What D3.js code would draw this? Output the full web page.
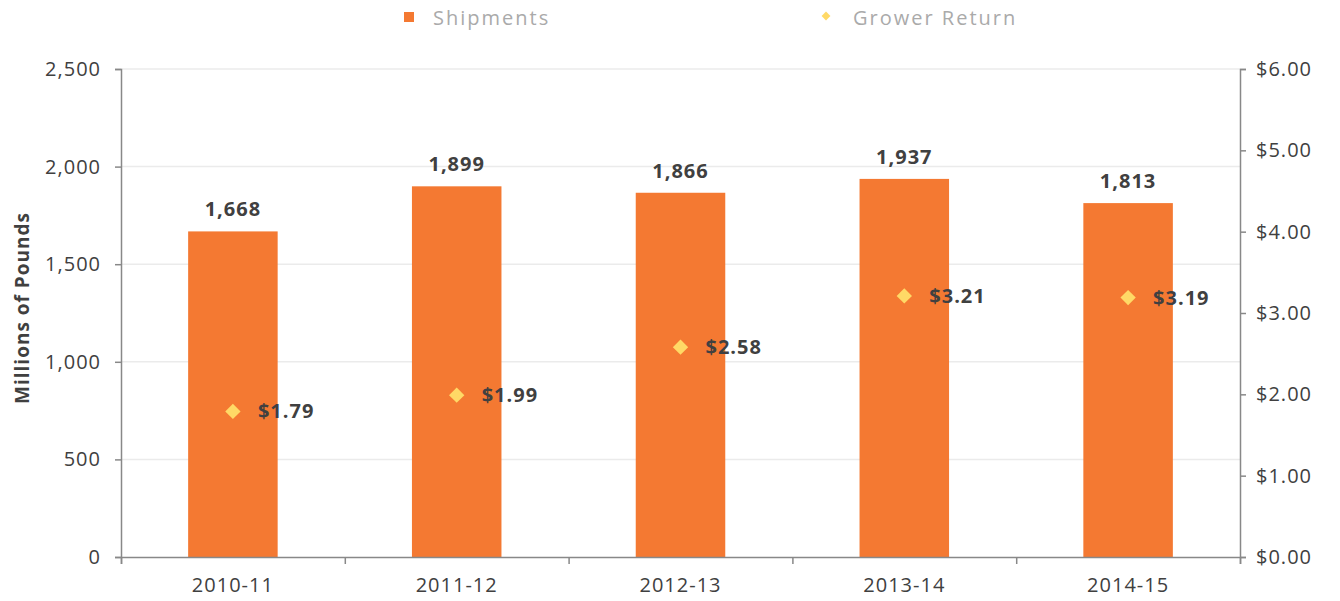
<!DOCTYPE html>
<html>
<head>
<meta charset="utf-8">
<script src="https://cdn.jsdelivr.net/npm/d3@7"></script>
<style>
  body { margin: 0; background: #fff; }
  svg text { font-family: "Open Sans", Lato, sans-serif; }
</style>
</head>
<body>
<div id="chart"></div>
<script>
var seasons = ["2010-11", "2011-12", "2012-13", "2013-14", "2014-15"];
var shipments = [1668, 1899, 1866, 1937, 1813];
var growerReturn = [1.79, 1.99, 2.58, 3.21, 3.19];
var leftTicks = [0, 500, 1000, 1500, 2000, 2500];
var rightTicks = [0, 1, 2, 3, 4, 5, 6];

var svgWidth = 1340;
var svgHeight = 601;
var margin = { top: 69, right: 100, bottom: 44, left: 121 };
var width = svgWidth - margin.left - margin.right;
var height = svgHeight - margin.top - margin.bottom;

var fontFam = "'Open Sans', Lato, sans-serif";
var textColor = "#404040";

var svg = d3.select("#chart").append("svg")
  .attr("width", svgWidth)
  .attr("height", svgHeight);

var chartGroup = svg.append("g")
  .attr("transform", `translate(${margin.left}, ${margin.top})`);

var x = d3.scaleBand().domain(seasons).range([0, width]);
var yLeft = d3.scaleLinear().domain([0, 2500]).range([height, 0]);
var yRight = d3.scaleLinear().domain([0, 6]).range([height, 0]);

// gridlines
chartGroup.selectAll(".grid")
  .data(leftTicks.slice(1))
  .enter()
  .append("line")
  .attr("x1", 0)
  .attr("x2", width)
  .attr("y1", d => yLeft(d))
  .attr("y2", d => yLeft(d))
  .attr("stroke", "#ebebeb")
  .attr("stroke-width", 1.5);

// bars
var barW = x.bandwidth() * 0.4;
chartGroup.selectAll(".bar")
  .data(shipments)
  .enter()
  .append("rect")
  .attr("x", (d, i) => x(seasons[i]) + (x.bandwidth() - barW) / 2)
  .attr("y", d => yLeft(d))
  .attr("width", barW)
  .attr("height", d => height - yLeft(d))
  .attr("fill", "#f47932");

// bar labels
chartGroup.selectAll(".barLabel")
  .data(shipments)
  .enter()
  .append("text")
  .attr("x", (d, i) => x(seasons[i]) + x.bandwidth() / 2)
  .attr("y", d => yLeft(d) - 15)
  .attr("text-anchor", "middle")
  .attr("font-size", 20)
  .attr("font-weight", "bold")
  .attr("letter-spacing", 1)
  .attr("fill", textColor)
  .text(d => d3.format(",")(d));

// diamonds
var sym = d3.symbol().type(d3.symbolDiamond2).size(150);
chartGroup.selectAll(".pt")
  .data(growerReturn)
  .enter()
  .append("path")
  .attr("d", sym)
  .attr("transform", (d, i) => `translate(${x(seasons[i]) + x.bandwidth() / 2}, ${yRight(d)})`)
  .attr("fill", "#ffd966");

chartGroup.selectAll(".ptLabel")
  .data(growerReturn)
  .enter()
  .append("text")
  .attr("x", (d, i) => x(seasons[i]) + x.bandwidth() / 2 + 25)
  .attr("y", d => yRight(d) + 7)
  .attr("font-size", 20)
  .attr("font-weight", "bold")
  .attr("letter-spacing", 1)
  .attr("fill", textColor)
  .text(d => "$" + d.toFixed(2));

// axes
var axisColor = "#888";
chartGroup.append("g")
  .call(d3.axisLeft(yLeft).tickValues(leftTicks).tickSize(6).tickPadding(14).tickFormat(d3.format(",")));
chartGroup.append("g")
  .attr("transform", `translate(${width}, 0)`)
  .call(d3.axisRight(yRight).tickValues(rightTicks).tickSize(6).tickPadding(10).tickFormat(d => "$" + d.toFixed(2)));

var xEdges = d3.scaleLinear().domain([0, 5]).range([0, width]);
chartGroup.append("g")
  .attr("transform", `translate(0, ${height})`)
  .call(d3.axisBottom(xEdges).tickValues([0, 1, 2, 3, 4, 5]).tickSize(7).tickFormat(""));

chartGroup.append("g")
  .attr("transform", `translate(0, ${height})`)
  .call(d3.axisBottom(x).tickSize(0).tickPadding(21))
  .call(g => g.select(".domain").remove());

chartGroup.selectAll(".domain, .tick line")
  .attr("stroke", axisColor)
  .attr("stroke-width", 1.5);
chartGroup.selectAll(".tick text")
  .attr("font-size", 20)
  .attr("fill", textColor)
  .attr("letter-spacing", 1)
  .style("font-family", fontFam);

// y title
svg.append("text")
  .attr("transform", `translate(29, ${margin.top + height / 2 - 5}) rotate(-90)`)
  .attr("text-anchor", "middle")
  .attr("font-size", 19)
  .attr("font-weight", "bold")
  .attr("letter-spacing", 1)
  .attr("fill", textColor)
  .text("Millions of Pounds");

// legend
var legend = svg.append("g");
legend.append("rect")
  .attr("x", 404).attr("y", 12)
  .attr("width", 10).attr("height", 10)
  .attr("fill", "#f47932");
legend.append("text")
  .attr("x", 433).attr("y", 25)
  .attr("font-size", 20)
  .attr("letter-spacing", 2)
  .attr("fill", "#aaa")
  .text("Shipments");
legend.append("path")
  .attr("d", d3.symbol().type(d3.symbolDiamond2).size(50))
  .attr("transform", "translate(826, 16)")
  .attr("fill", "#ffd966");
legend.append("text")
  .attr("x", 853).attr("y", 25)
  .attr("font-size", 20)
  .attr("letter-spacing", 2)
  .attr("fill", "#aaa")
  .text("Grower Return");
</script>
</body>
</html>
